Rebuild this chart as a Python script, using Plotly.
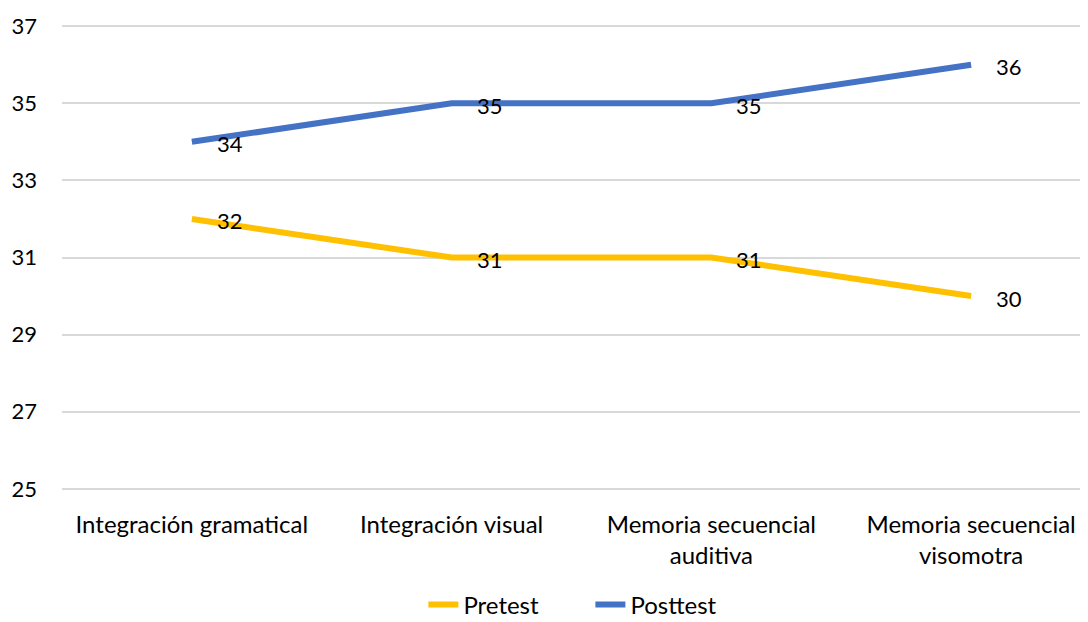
import plotly.graph_objects as go

# Datos del gráfico:
categorias = [
    'Integración gramatical',
    'Integración visual',
    'Memoria secuencial<br>auditiva',
    'Memoria secuencial<br>visomotra',
]
pretest = [32, 31, 31, 30]
posttest = [34, 35, 35, 36]
ticks_y = [25, 27, 29, 31, 33, 35, 37]

fuente = 'Lato, Carlito, Calibri, sans-serif'

fig = go.Figure()

series = [('Pretest', pretest, '#FFC000'), ('Posttest', posttest, '#4472C4')]
for nombre, valores, color in series:
    fig.add_trace(go.Scatter(
        x=categorias,
        y=valores,
        name=nombre,
        mode='lines',
        line=dict(color=color, width=6),
    ))

# Etiquetas de datos a la derecha de cada punto:
anotaciones = []
for nombre, valores, color in series:
    for cat, val in zip(categorias, valores):
        anotaciones.append(dict(
            x=cat, y=val, text=str(val),
            showarrow=False,
            xanchor='left', yanchor='middle',
            xshift=23, yshift=-2,
            font=dict(size=22, color='#000000', family=fuente),
        ))

# La página añade 8 px de margen, así que la figura es algo más pequeña:
fig.update_layout(
    width=1080,
    height=614,
    margin=dict(l=54, r=0, t=17, b=132, autoexpand=False),
    paper_bgcolor='white',
    plot_bgcolor='white',
    font=dict(family=fuente, size=23, color='#000000'),
    annotations=anotaciones,
    showlegend=True,
    legend=dict(
        orientation='h',
        x=0.515, xanchor='center',
        yref='container',
        y=0.028, yanchor='middle',
        font=dict(size=24),
        entrywidth=122,
    ),
    xaxis=dict(
        range=[-0.5, 3.45],
        showgrid=False,
        showline=False,
        ticks='',
        automargin=False,
        ticklabelstandoff=18,
        tickfont=dict(size=24),
    ),
    yaxis=dict(
        range=[24.97, 37.03],
        tickvals=ticks_y,
        showgrid=True,
        gridcolor='#D9D9D9',
        gridwidth=2,
        zeroline=False,
        showline=False,
        ticks='',
        automargin=False,
        ticklabelstandoff=24,
        tickfont=dict(size=22),
    ),
)

fig.write_html('out.html')
